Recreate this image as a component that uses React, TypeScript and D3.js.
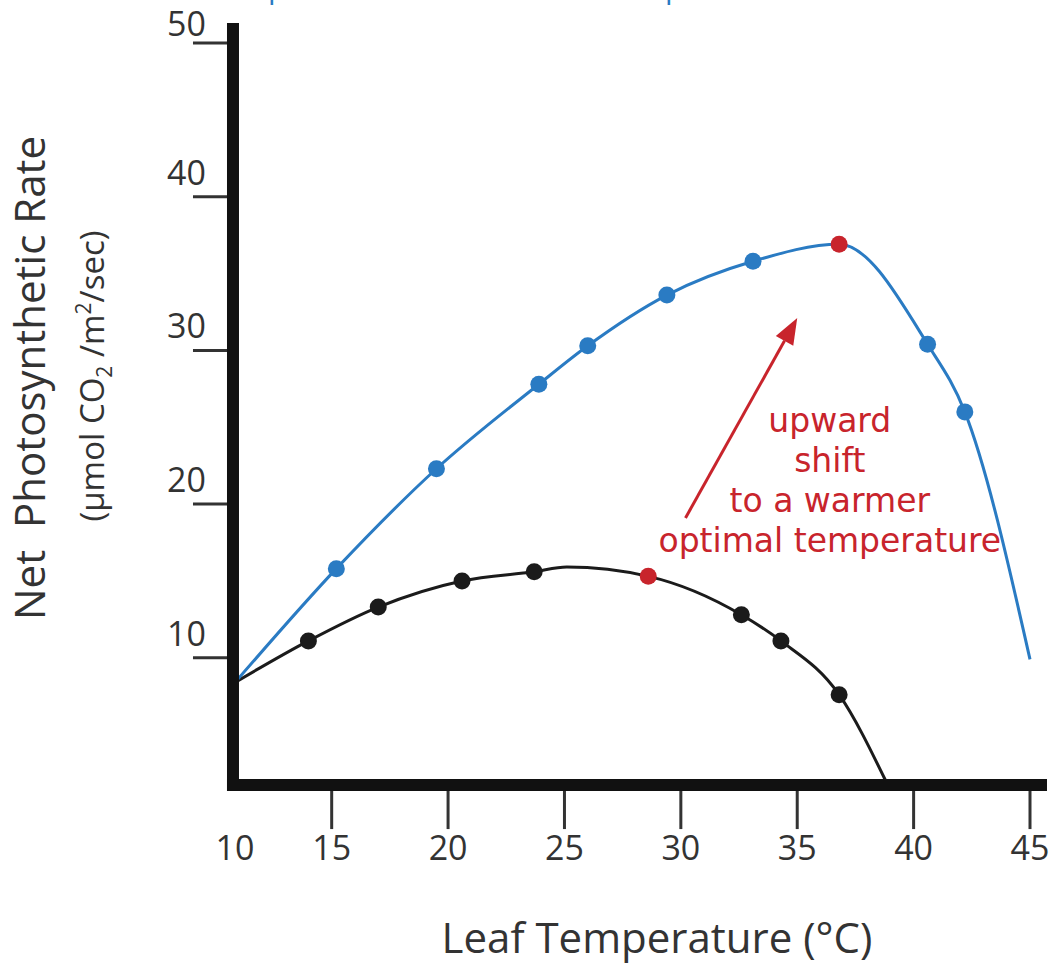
import * as d3 from "d3";

const W = 1053;
const H = 968;

// tick values
const xTickValues = [15, 20, 25, 30, 35, 40, 45];
const xLabelValues = [10, 15, 20, 25, 30, 35, 40, 45];
const yTickValues = [10, 20, 30, 40, 50];

// blue series (acclimated) – measured points
const blueTemp = [15.2, 19.5, 23.9, 26.0, 29.4, 33.1, 36.8, 40.6, 42.2];
const blueRate = [15.8, 22.3, 27.8, 30.3, 33.6, 35.8, 36.9, 30.4, 26.0];
const blueOptimum = 6;
// blue curve vertices
const blueLineTemp = [10.85, 15.2, 19.5, 23.9, 26.0, 29.4, 33.1, 36.8, 40.6, 42.2, 45.0];
const blueLineRate = [8.4, 15.8, 22.3, 27.8, 30.3, 33.6, 35.8, 36.9, 30.4, 26.0, 9.9];

// black series – measured points
const blackTemp = [14.0, 17.0, 20.6, 23.7, 28.6, 32.6, 34.3, 36.8];
const blackRate = [11.1, 13.3, 15.0, 15.6, 15.3, 12.8, 11.1, 7.6];
const blackOptimum = 4;
// black curve vertices
const blackLineTemp = [10.85, 14.0, 17.0, 20.6, 23.7, 25.1, 28.6, 32.6, 34.3, 36.8, 38.8];
const blackLineRate = [8.4, 11.1, 13.3, 15.0, 15.6, 15.9, 15.3, 12.8, 11.1, 7.6, 2.0];

// annotation
const arrowTemp = [30.2, 35.0];
const arrowRate = [19.1, 32.1];
const noteLines = ["upward", "shift", "to a warmer", "optimal temperature"];
const noteTemp = 36.4;
const noteRate = 24.7;

const RED = "#c8242c";
const BLUE = "#2a7bc3";
const DARK = "#1b1b1b";
const TEXT = "#333";
const FONT = "'Open Sans', 'Noto Sans', sans-serif";

// where the axis lines sit (in data units)
const X_AXIS_AT = 1.72;
const Y_AXIS_AT = 10.76;
const X_AXIS_END = 45.73;
const Y_AXIS_END = 51.3;

export default function App() {
  const x = d3.scaleLinear().domain([10, 45]).range([215.3, 1030]);
  const y = d3.scaleLinear().domain([0, 50]).range([811.5, 43]);

  const line = d3
    .line<[number, number]>()
    .x((d) => x(d[0]))
    .y((d) => y(d[1]))
    .curve(d3.curveMonotoneX);

  const bluePts = blueLineTemp.map((t, i) => [t, blueLineRate[i]] as [number, number]);
  const blackPts = blackLineTemp.map((t, i) => [t, blackLineRate[i]] as [number, number]);

  const axisX = x(Y_AXIS_AT);
  const axisY = y(X_AXIS_AT);

  // arrow geometry
  const ax0 = x(arrowTemp[0]);
  const ay0 = y(arrowRate[0]);
  const ax1 = x(arrowTemp[1]);
  const ay1 = y(arrowRate[1]);
  const ang = Math.atan2(ay1 - ay0, ax1 - ax0);
  const headLen = 26;
  const headHalf = 10;
  const bx = ax1 - headLen * Math.cos(ang);
  const by = ay1 - headLen * Math.sin(ang);
  const head = [
    [ax1, ay1],
    [bx + headHalf * Math.sin(ang), by - headHalf * Math.cos(ang)],
    [bx - headHalf * Math.sin(ang), by + headHalf * Math.cos(ang)],
  ]
    .map((p) => p.join(","))
    .join(" ");

  return (
    <svg
      width={W}
      height={H}
      style={{ position: "absolute", left: 0, top: 0, background: "#fff" }}
      fontFamily={FONT}
    >
      {/* clipped title at the very top */}
      <text x={268} y={-2} fontSize={30} fill={BLUE}>
        performance at warmer temperatures
      </text>

      {/* y ticks + labels */}
      {yTickValues.map((v) => (
        <g key={"y" + v}>
          <line x1={axisX - 40} x2={axisX} y1={y(v)} y2={y(v)} stroke={TEXT} strokeWidth={3} />
          <text x={206} y={Math.max(y(v) - 12, 36)} textAnchor="end" fontSize={34} fill={TEXT}>
            {v}
          </text>
        </g>
      ))}

      {/* x ticks + labels */}
      {xTickValues.map((v) => (
        <line key={"xt" + v} x1={x(v)} x2={x(v)} y1={axisY} y2={axisY + 44} stroke={TEXT} strokeWidth={3} />
      ))}
      {xLabelValues.map((v) => (
        <text
          key={"xl" + v}
          x={Math.max(x(v), axisX + 2)}
          y={860}
          textAnchor="middle"
          fontSize={34}
          fill={TEXT}
        >
          {v}
        </text>
      ))}

      {/* curves */}
      <path d={line(blackPts) || ""} fill="none" stroke={DARK} strokeWidth={3} />
      <path d={line(bluePts) || ""} fill="none" stroke={BLUE} strokeWidth={3} />

      {/* axes */}
      <line x1={axisX} x2={axisX} y1={y(Y_AXIS_END)} y2={axisY + 6} stroke="#111" strokeWidth={12} />
      <line x1={axisX - 6} x2={x(X_AXIS_END)} y1={axisY} y2={axisY} stroke="#111" strokeWidth={12} />

      {/* markers */}
      {blackTemp.map((t, i) => (
        <circle
          key={"bk" + i}
          cx={x(t)}
          cy={y(blackRate[i])}
          r={8.5}
          fill={i === blackOptimum ? RED : DARK}
        />
      ))}
      {blueTemp.map((t, i) => (
        <circle
          key={"bl" + i}
          cx={x(t)}
          cy={y(blueRate[i])}
          r={8.5}
          fill={i === blueOptimum ? RED : BLUE}
        />
      ))}

      {/* arrow */}
      <line x1={ax0} y1={ay0} x2={bx} y2={by} stroke={RED} strokeWidth={3} />
      <polygon points={head} fill={RED} />

      {/* annotation */}
      {noteLines.map((s, i) => (
        <text
          key={"n" + i}
          x={x(noteTemp)}
          y={y(noteRate) + i * 40}
          textAnchor="middle"
          fontSize={33}
          fontFamily="'DejaVu Sans', sans-serif"
          fill={RED}
        >
          {s}
        </text>
      ))}

      {/* axis titles */}
      <text
        transform="translate(45,378) rotate(-90)"
        textAnchor="middle"
        fontSize={42}
        fill={TEXT}
        style={{ whiteSpace: "pre" }}
      >
        {"Net  Photosynthetic Rate"}
      </text>
      <text transform="translate(104,376) rotate(-90)" textAnchor="middle" fontSize={33} fill={TEXT}>
        (µmol CO
        <tspan dy={8} fontSize={21}>
          2
        </tspan>
        <tspan dy={-8}> /m</tspan>
        <tspan dy={-13} fontSize={21}>
          2
        </tspan>
        <tspan dy={13}>/sec)</tspan>
      </text>
      <text x={657} y={953} textAnchor="middle" fontSize={42} fill={TEXT}>
        Leaf Temperature (°C)
      </text>
    </svg>
  );
}
